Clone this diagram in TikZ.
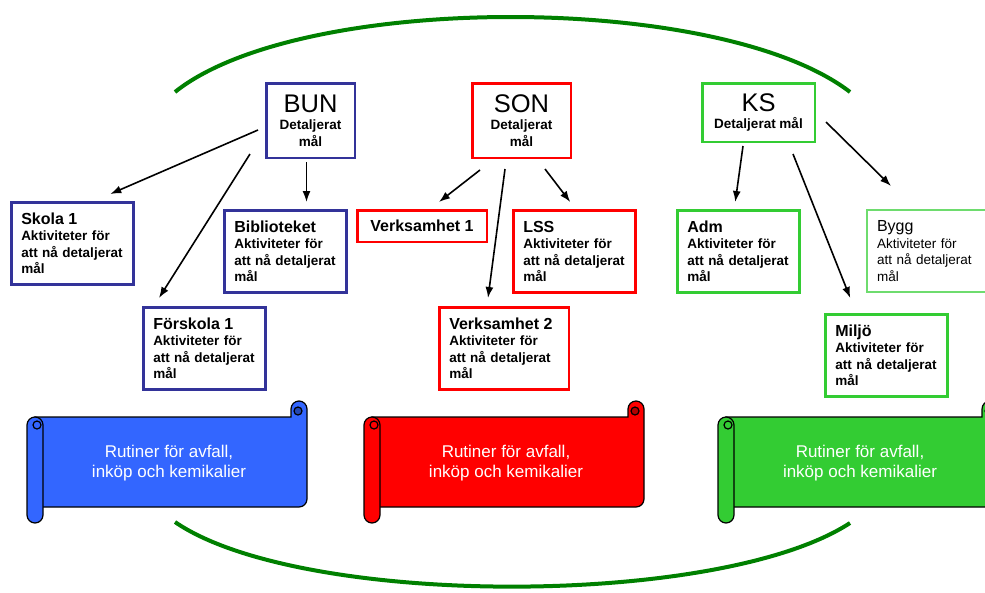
\documentclass[tikz,border=0pt]{standalone}
\usepackage{fontspec}
\setmainfont{Liberation Sans}
\usetikzlibrary{shapes,arrows,arrows.meta}
\definecolor{bunblue}{RGB}{51,51,153}
\definecolor{sonred}{RGB}{255,0,0}
\definecolor{ksgreen}{RGB}{51,204,51}
\definecolor{bygggreen}{RGB}{110,220,110}
\definecolor{rutblue}{RGB}{51,102,255}
\definecolor{rutgreen}{RGB}{51,204,51}
\definecolor{ringgreen}{RGB}{0,128,0}
\tikzstyle{block} = [rectangle, draw, line width=2.5pt, fill=white, anchor=north west,
    text width=102pt, inner xsep=10pt, minimum height=82pt, align=left,
    font=\bfseries\fontsize{13.5}{16.5}\selectfont]
\tikzstyle{head} = [rectangle, draw, line width=2.5pt, fill=white, anchor=north west,
    align=center, inner sep=0pt, font=\bfseries\fontsize{13.5}{16.5}\selectfont]
\tikzstyle{line} = [draw, -{Latex[length=11pt,width=8pt]}, line width=1.6pt]
\tikzstyle{ring} = [draw=ringgreen, line width=4pt]
\tikzstyle{rulle} = [draw=black, line width=1.2pt]
\tikzstyle{rutin} = [text=white, align=center, font=\fontsize{17}{20}\selectfont]
\newcommand{\rubrik}[1]{{\fontsize{16}{18}\selectfont #1}}

\begin{document}
\begin{tikzpicture}[x=1pt, y=-1pt, auto]
	\useasboundingbox (0,0) rectangle (985,592);

	\path [ring] (175,92) .. controls (300,-8) and (720,-8) .. (850,92);
	\path [ring] (175,522) .. controls (300,608) and (720,608) .. (850,523);

	\node [head, draw=bunblue, minimum width=88.5pt, minimum height=74.5pt] (bun) at (265,82) {{\mdseries\fontsize{25.5}{28}\selectfont BUN}\\[1pt] Detaljerat\\ mål};
	\node [head, draw=sonred, minimum width=98.5pt, minimum height=74.5pt] (son) at (471,82) {{\mdseries\fontsize{25.5}{28}\selectfont SON}\\[1pt] Detaljerat\\ mål};
	\node [head, draw=ksgreen, minimum width=112.5pt, minimum height=58.5pt] (ks) at (701,82) {{\mdseries\fontsize{25.5}{28}\selectfont KS}\\[1pt] Detaljerat mål};

	\node [block, draw=bunblue] (skola) at (10,201) {\rubrik{Skola 1}\\ Aktiviteter för\\ att nå detaljerat\\ mål};
	\node [block, draw=bunblue] (bibl) at (223,209) {\rubrik{Biblioteket}\\ Aktiviteter för\\ att nå detaljerat\\ mål};
	\node [block, draw=bunblue] (forskola) at (142,306) {\rubrik{Förskola 1}\\ Aktiviteter för\\ att nå detaljerat\\ mål};

	\node [head, draw=sonred, minimum width=129.5pt, minimum height=31.5pt, font=\bfseries\fontsize{16}{18}\selectfont] (verks1) at (356,209) {Verksamhet 1};
	\node [block, draw=sonred] (lss) at (512,209) {\rubrik{LSS}\\ Aktiviteter för\\ att nå detaljerat\\ mål};
	\node [block, draw=sonred, text width=109.5pt] (verks2) at (438,306) {\rubrik{Verksamhet 2}\\ Aktiviteter för\\ att nå detaljerat\\ mål};

	\node [block, draw=ksgreen] (adm) at (676,209) {\rubrik{Adm}\\ Aktiviteter för\\ att nå detaljerat\\ mål};
	\node [block, draw=bygggreen, line width=2pt, font=\fontsize{13.5}{16.5}\selectfont] (bygg) at (866,209) {\rubrik{Bygg}\\ Aktiviteter för\\ att nå detaljerat\\ mål};
	\node [block, draw=ksgreen] (miljo) at (824,313) {\rubrik{Miljö}\\ Aktiviteter för\\ att nå detaljerat\\ mål};

	\path [line] ([xshift=-7pt,yshift=-9.5pt]bun.west) -- ([xshift=38pt,yshift=7pt]skola.north);
	\path [line] ([xshift=-15pt,yshift=5pt]bun.south west) -- ([xshift=17pt,yshift=8pt]forskola.north west);
	\path [line] ([xshift=-4pt,yshift=-3pt]bun.south) -- ([xshift=-4pt,yshift=7pt]bun.south |- bibl.north);
	\path [line] ([xshift=-41.5pt,yshift=-11pt]son.south) -- ([xshift=17pt,yshift=7pt]verks1.north);
	\path [line] ([xshift=-16.5pt,yshift=-10pt]son.south) -- ([xshift=-16pt,yshift=8pt]verks2.north);
	\path [line] ([xshift=23.5pt,yshift=-10pt]son.south) -- ([xshift=-4pt,yshift=7pt]lss.north);
	\path [line] ([xshift=-15.5pt,yshift=-3pt]ks.south) -- ([xshift=-3pt,yshift=7pt]adm.north);
	\path [line] ([xshift=34.5pt,yshift=-11pt]ks.south) -- ([xshift=-36pt,yshift=15pt]miljo.north);
	\path [line] ([xshift=10pt,yshift=-9.5pt]ks.east) -- ([xshift=-37pt,yshift=23pt]bygg.north);

	\foreach \x/\c/\n in {27/rutblue/bunrutin, 364/sonred/sonrutin, 718/rutgreen/ksrutin} {
		\filldraw [rulle, fill=\c] (\x+8,417) -- (\x+264,417) -- (\x+264,409) arc [start angle=180, end angle=0, radius=8pt] -- (\x+280,499) arc [start angle=0, end angle=-90, radius=8pt] -- (\x+8,507) -- cycle;
		\filldraw [rulle, fill=\c!70!black] (\x+271,411) circle [radius=4pt];
		\filldraw [rulle, fill=\c, rounded corners=8pt] (\x,417) rectangle (\x+16,523);
		\draw [rulle] (\x+10,425) circle [radius=4pt];
		\node [rutin] (\n) at (\x+142,463) {Rutiner för avfall,\\ inköp och kemikalier};
	}
\end{tikzpicture}
\end{document}
